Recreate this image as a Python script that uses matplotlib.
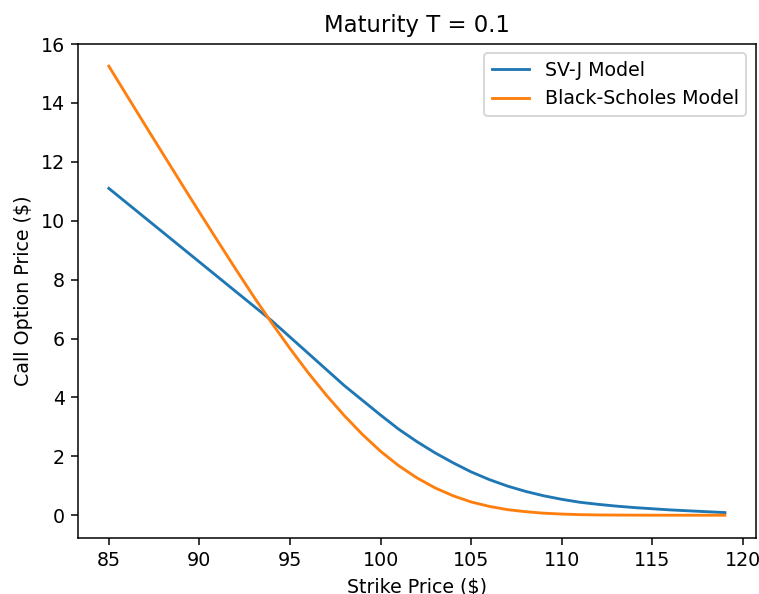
import numpy as np
import matplotlib
matplotlib.use("Agg")
import matplotlib.pyplot as plt

strikes = np.arange(85, 120)

svj_prices = [11.1, 10.6, 10.1, 9.6, 9.1, 8.6, 8.1, 7.6, 7.1, 6.6,
              6.05, 5.5, 4.95, 4.4, 3.9, 3.4, 2.92, 2.5, 2.12, 1.78,
              1.47, 1.21, 0.99, 0.81, 0.66, 0.54, 0.44, 0.37, 0.31, 0.26,
              0.22, 0.18, 0.15, 0.12, 0.09]

bs_prices = [15.25, 14.25, 13.25, 12.26, 11.27, 10.29, 9.32, 8.36, 7.42, 6.52,
             5.66, 4.84, 4.08, 3.38, 2.74, 2.17, 1.68, 1.27, 0.93, 0.66,
             0.45, 0.3, 0.19, 0.12, 0.07, 0.04, 0.02, 0.01, 0.006, 0.003,
             0.002, 0.001, 0.0005, 0.0, 0.0]

dpi = 136.6
fig, ax = plt.subplots(figsize=(759 / dpi, 594 / dpi), dpi=dpi)
fig.subplots_adjust(left=0.1028, right=0.9957, top=0.9264, bottom=0.0948)

ax.plot(strikes, svj_prices, label="SV-J Model")
ax.plot(strikes, bs_prices, label="Black-Scholes Model")

ax.set_title("Maturity T = 0.1")
ax.set_xlabel("Strike Price ($)")
ax.set_ylabel("Call Option Price ($)")
ax.legend()

plt.savefig("out.png", dpi=dpi)
